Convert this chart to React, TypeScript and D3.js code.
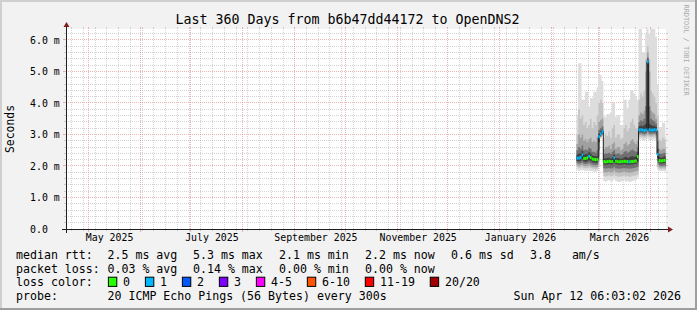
import React from "react";
import * as d3 from "d3";

// ---------- data ----------
const title = "Last 360 Days from b6b47dd44172 to OpenDNS2";
const yAxisTitle = "Seconds";
const watermark = "RRDTOOL / TOBI OETIKER";

const timeStart = new Date(2025, 3, 17, 14, 0);
const timeEnd = new Date(2026, 3, 10, 9, 0);
const firstDay = new Date(2026, 1, 16);
const yMaxMs = 6.349;

const yMajorTicks = [0, 1, 2, 3, 4, 5, 6];
const yTickLabels = ["0.0", "1.0 m", "2.0 m", "3.0 m", "4.0 m", "5.0 m", "6.0 m"];
const xLabelMonths = [new Date(2025, 4, 1), new Date(2025, 6, 1), new Date(2025, 8, 1), new Date(2025, 10, 1), new Date(2026, 0, 1), new Date(2026, 2, 1)];
const xLabelTexts = ["May 2025", "July 2025", "September 2025", "November 2025", "January 2026", "March 2026"];

// daily median rtt (ms)
const median = [
  2.25, 2.25, 2.27, 2.35, 2.24, 2.24, 2.26, 2.31, 2.27, 2.22, 2.21, 2.2, 2.21,
  2.93, 3.02, 3.09,
  2.14, 2.13, 2.14, 2.15, 2.14, 2.14, 2.26, 2.15, 2.14, 2.13, 2.14, 2.14, 2.15, 2.14, 2.14, 2.13, 2.14, 2.14, 2.15, 2.16,
  2.3,
  3.14, 3.15, 3.14, 3.13, 3.14, 5.31, 3.15, 3.14, 3.14, 3.15, 3.14,
  2.37,
  2.17, 2.16, 2.17, 2.18, 2.17,
];
// average lost pings (of 20)
const lossPings = [
  0.04, 0.03, 0.02, 0.05, 0, 0, 0, 0.03, 0, 0, 0, 0, 0,
  0.06, 0.05, 0.04,
  0, 0, 0, 0, 0, 0, 0.03, 0, 0, 0, 0, 0, 0, 0, 0, 0.02, 0, 0, 0, 0,
  0,
  0.02, 0.03, 0.02, 0.02, 0.03, 0.05, 0.02, 0.02, 0.03, 0.02, 0.02,
  0.03,
  0, 0, 0, 0, 0,
];
// smoke: ping ranks, outermost (1) to innermost (5)
const hi1 = [
  3.62, 5.26, 5.26, 4.1, 4.1, 4.36, 4.36, 3.88, 4.16, 4.16, 4.36, 4.36, 4.5,
  4.89, 4.89, 4.7,
  3.57, 3.57, 3.65, 3.65, 3.7, 4.04, 4.04, 3.57, 3.6, 3.62, 3.3, 3.3, 4.1, 4.1, 3.85, 4.1, 4.41, 4.41, 4.3, 4.2,
  4.1,
  6.4, 6.4, 5.6, 5.6, 6.2, 6.4, 6.2, 6.4, 6.4, 6.4, 6.1,
  4.6,
  3.24, 3.24, 3.37, 3.37, 2.92,
];
const hi2 = [
  3.0, 3.8, 3.5, 3.6, 3.3, 3.4, 3.2, 3.3, 3.5, 3.2, 3.4, 3.3, 3.6,
  4.0, 4.1, 4.0,
  2.9, 3.0, 2.95, 3.1, 2.9, 3.2, 3.3, 2.9, 3.0, 3.0, 2.85, 2.9, 3.2, 3.3, 3.1, 3.2, 3.4, 3.5, 3.3, 3.2,
  3.2,
  4.1, 4.3, 4.2, 4.4, 5.4, 5.8, 5.4, 4.4, 4.3, 4.2, 4.0,
  3.6,
  2.85, 2.8, 2.9, 2.85, 2.6,
];
const hi3 = [
  2.7, 3.0, 2.9, 3.0, 2.8, 2.85, 2.75, 2.85, 2.9, 2.75, 2.8, 2.75, 2.9,
  3.4, 3.45, 3.5,
  2.55, 2.6, 2.6, 2.65, 2.55, 2.7, 2.75, 2.55, 2.6, 2.6, 2.5, 2.55, 2.7, 2.75, 2.65, 2.7, 2.8, 2.85, 2.75, 2.7,
  2.8,
  3.6, 3.7, 3.65, 3.75, 5.0, 5.6, 5.0, 3.75, 3.7, 3.65, 3.5,
  3.1,
  2.55, 2.5, 2.55, 2.55, 2.4,
];
const hi4 = [
  2.5, 2.6, 2.55, 2.65, 2.5, 2.52, 2.5, 2.58, 2.55, 2.45, 2.45, 2.42, 2.5,
  3.15, 3.2, 3.25,
  2.38, 2.4, 2.4, 2.42, 2.38, 2.45, 2.5, 2.38, 2.4, 2.4, 2.35, 2.38, 2.45, 2.48, 2.42, 2.45, 2.5, 2.52, 2.48, 2.45,
  2.6,
  3.4, 3.45, 3.42, 3.5, 3.9, 5.45, 3.9, 3.5, 3.45, 3.42, 3.35,
  2.8,
  2.4, 2.38, 2.4, 2.42, 2.32,
];
const hi5 = [
  2.36, 2.4, 2.4, 2.48, 2.36, 2.37, 2.38, 2.44, 2.4, 2.33, 2.32, 2.3, 2.32,
  3.02, 3.1, 3.15,
  2.24, 2.24, 2.25, 2.26, 2.24, 2.27, 2.36, 2.25, 2.25, 2.24, 2.23, 2.24, 2.28, 2.29, 2.26, 2.27, 2.3, 2.31, 2.29, 2.3,
  2.45,
  3.26, 3.28, 3.26, 3.3, 3.35, 5.38, 3.35, 3.3, 3.28, 3.28, 3.24,
  2.55,
  2.28, 2.26, 2.28, 2.3, 2.24,
];
const lo5 = [
  2.16, 2.15, 2.16, 2.22, 2.14, 2.13, 2.15, 2.18, 2.16, 2.12, 2.11, 2.1, 2.11,
  2.75, 2.99, 3.05,
  2.05, 2.04, 2.05, 2.06, 2.05, 2.05, 2.12, 2.06, 2.05, 2.04, 2.05, 2.05, 2.06, 2.05, 2.05, 2.04, 2.05, 2.05, 2.06, 2.07,
  2.12,
  3.08, 3.09, 3.08, 3.07, 3.08, 3.2, 3.09, 3.08, 3.08, 3.09, 3.08,
  2.25,
  2.09, 2.08, 2.09, 2.1, 2.09,
];
const lo4 = [
  2.1, 2.08, 2.09, 2.12, 2.07, 2.06, 2.08, 2.1, 2.08, 2.05, 2.04, 2.03, 2.04,
  2.5, 2.96, 3.02,
  1.93, 1.92, 1.93, 1.94, 1.92, 1.93, 1.98, 1.93, 1.92, 1.91, 1.92, 1.93, 1.94, 1.92, 1.93, 1.91, 1.92, 1.93, 1.94, 1.95,
  1.98,
  3.03, 3.04, 3.02, 3.01, 3.03, 3.1, 3.03, 3.02, 3.03, 3.04, 3.02,
  2.15,
  2.02, 2.0, 2.01, 2.02, 2.0,
];
const lo3 = [
  2.03, 2.0, 2.02, 2.04, 2.0, 1.99, 2.0, 2.02, 2.0, 1.98, 1.97, 1.96, 1.97,
  2.3, 2.93, 3.0,
  1.8, 1.79, 1.8, 1.82, 1.79, 1.8, 1.86, 1.8, 1.79, 1.78, 1.79, 1.8, 1.82, 1.79, 1.8, 1.78, 1.79, 1.8, 1.82, 1.83,
  1.85,
  2.98, 2.99, 2.97, 2.96, 2.98, 3.02, 2.98, 2.97, 2.98, 2.99, 2.96,
  2.05,
  1.96, 1.95, 1.96, 1.96, 1.94,
];
const lo2 = [
  1.97, 1.94, 1.95, 1.97, 1.94, 1.93, 1.94, 1.95, 1.94, 1.92, 1.91, 1.9, 1.91,
  2.15, 2.9, 2.97,
  1.68, 1.67, 1.68, 1.7, 1.67, 1.68, 1.74, 1.68, 1.67, 1.66, 1.67, 1.68, 1.7, 1.67, 1.68, 1.66, 1.67, 1.68, 1.7, 1.71,
  1.72,
  2.92, 2.93, 2.91, 2.9, 2.92, 2.95, 2.92, 2.91, 2.92, 2.93, 2.9,
  1.97,
  1.91, 1.9, 1.91, 1.9, 1.89,
];
const lo1 = [
  1.88, 1.84, 1.86, 1.87, 1.85, 1.84, 1.85, 1.86, 1.84, 1.83, 1.82, 1.82, 1.83,
  2.0, 2.86, 2.94,
  1.52, 1.5, 1.53, 1.55, 1.5, 1.52, 1.58, 1.52, 1.5, 1.49, 1.5, 1.52, 1.55, 1.5, 1.52, 1.49, 1.5, 1.52, 1.55, 1.56,
  1.6,
  2.83, 2.85, 2.82, 2.8, 2.83, 2.86, 2.82, 2.81, 2.83, 2.85, 2.8,
  1.88,
  1.85, 1.84, 1.85, 1.83, 1.82,
];

// legend
const rttLabel = "median rtt:";
const rttValues = ["2.5 ms avg", "5.3 ms max", "2.1 ms min", "2.2 ms now", "0.6 ms sd", "3.8   am/s"];
const lossLabel = "packet loss:";
const lossValues = ["0.03 % avg", "0.14 % max", "0.00 % min", "0.00 % now"];
const lossColorLabel = "loss color:";
const lossBins = ["0", "1", "2", "3", "4-5", "6-10", "11-19", "20/20"];
const lossBinUpper = [0, 1, 2, 3, 5, 10, 19, 20];
const lossBinColors = ["#26ff00", "#00b8ff", "#0059ff", "#7e00ff", "#ff00ff", "#ff5500", "#ff0000", "#a00000"];
const probeLabel = "probe:";
const probeText = "20 ICMP Echo Pings (56 Bytes) every 300s";
const dateText = "Sun Apr 12 06:03:02 2026";

// ---------- styles / layout ----------
const W = 697, H = 310;
const X0 = 66, X1 = 666, Y0 = 229, Y1 = 29;
const MONO = "'DejaVu Sans Mono', monospace";
const smokeColors = ["#dddddd", "#c4c4c4", "#a0a0a0", "#707070", "#404040"];
const gridColor = "rgba(143,143,143,0.38)";
const mgridColor = "rgba(222,79,79,0.42)";
const axisColor = "#1f1f1f";
const arrowColor = "#801f1f";
const legendCols = [107.5, 193, 279, 365, 451, 530];
const legendRowsY = [258.8, 272.5, 286.1, 300.2];
const charW = 6.99;

export default function App() {
  const x = d3.scaleTime().domain([timeStart, timeEnd]).range([X0, X1]);
  const y = d3.scaleLinear().domain([0, yMaxMs]).range([Y0, Y1]);
  const N = median.length;
  const dayAt = (i: number) => d3.timeDay.offset(firstDay, i);

  const bandsLo = [lo1, lo2, lo3, lo4, lo5];
  const bandsHi = [hi1, hi2, hi3, hi4, hi5];
  const idx = d3.range(N + 1);
  const clampI = (i: number) => Math.min(i, N - 1);

  const smokePaths = bandsLo.map((lo, b) => {
    const hi = bandsHi[b];
    const gen = d3
      .area<number>()
      .curve(d3.curveStepAfter)
      .x((i) => x(dayAt(i)))
      .y0((i) => y(lo[clampI(i)]))
      .y1((i) => y(hi[clampI(i)]));
    return <path key={"s" + b} d={gen(idx) || ""} fill={smokeColors[b]} />;
  });

  const medLine = d3
    .line<number>()
    .curve(d3.curveStepAfter)
    .x((i) => x(dayAt(i)))
    .y((i) => y(median[clampI(i)]));

  const lossColor = (l: number) => {
    for (let k = 0; k < lossBinUpper.length; k++) {
      if (l <= lossBinUpper[k]) return lossBinColors[k];
    }
    return lossBinColors[lossBinColors.length - 1];
  };

  const medBars = median.map((m, i) => {
    const xa = x(dayAt(i));
    const xb = x(dayAt(i + 1));
    return (
      <rect key={"m" + i} x={xa} y={y(m) - 1.5} width={xb - xa} height={3} fill={lossColor(lossPings[i])} />
    );
  });

  // grids
  const months = d3.timeMonth.range(timeStart, timeEnd);
  const monthSet = new Set(months.map((d) => +d));
  const weeks = d3.timeMonday.range(timeStart, timeEnd).filter((d) => !monthSet.has(+d));
  const px = (v: number) => Math.floor(v) + 0.5;

  const yMinor = d3.range(1, 32).map((k) => k * 0.2).filter((v) => Math.abs(v - Math.round(v)) > 1e-6 && v < yMaxMs);
  const yMajor = yMajorTicks.filter((v) => v > 0);

  const grid: React.ReactNode[] = [];
  weeks.forEach((d, i) => {
    const xx = px(x(d));
    grid.push(<line key={"wv" + i} x1={xx} x2={xx} y1={Y0} y2={Y1} stroke={gridColor} strokeDasharray="1,1" />);
    grid.push(<line key={"wt" + i} x1={xx} x2={xx} y1={Y0} y2={Y0 + 2} stroke={gridColor} />);
    grid.push(<line key={"wu" + i} x1={xx} x2={xx} y1={Y1 - 2} y2={Y1} stroke={gridColor} />);
  });
  yMinor.forEach((v, i) => {
    const yy = px(y(v));
    grid.push(<line key={"hm" + i} x1={X0} x2={X1} y1={yy} y2={yy} stroke={gridColor} strokeDasharray="1,1" />);
    grid.push(<line key={"hl" + i} x1={X0 - 2} x2={X0} y1={yy} y2={yy} stroke={gridColor} />);
    grid.push(<line key={"hr" + i} x1={X1} x2={X1 + 2} y1={yy} y2={yy} stroke={gridColor} />);
  });
  months.forEach((d, i) => {
    const xx = px(x(d));
    grid.push(<line key={"mv" + i} x1={xx} x2={xx} y1={Y0} y2={Y1} stroke={mgridColor} strokeDasharray="1,1" />);
    grid.push(<line key={"mt" + i} x1={xx} x2={xx} y1={Y0} y2={Y0 + 3} stroke={mgridColor} />);
    grid.push(<line key={"mu" + i} x1={xx} x2={xx} y1={Y1 - 2} y2={Y1} stroke={mgridColor} />);
  });
  yMajor.forEach((v, i) => {
    const yy = px(y(v));
    grid.push(<line key={"hM" + i} x1={X0} x2={X1} y1={yy} y2={yy} stroke={mgridColor} strokeDasharray="1,1" />);
    grid.push(<line key={"hML" + i} x1={X0 - 3} x2={X0} y1={yy} y2={yy} stroke={mgridColor} />);
    grid.push(<line key={"hMR" + i} x1={X1} x2={X1 + 2} y1={yy} y2={yy} stroke={mgridColor} />);
  });

  // legend loss color boxes
  const boxW = 8.4, boxH = 9.2;
  let cursor = 108.4;
  const lossLegend = lossBins.map((lab, k) => {
    const bx = cursor;
    const tx = bx + 14.7;
    cursor = tx + lab.length * charW + 15.3;
    return (
      <g key={"lb" + k}>
        <rect x={bx} y={legendRowsY[2] - 8.9} width={boxW} height={boxH} fill={lossBinColors[k]} stroke="#000" strokeWidth={1} />
        <text x={tx} y={legendRowsY[2]}>{lab}</text>
      </g>
    );
  });

  const labelOffsetMs = 12.6 * 864e5;

  return (
    <svg width={W} height={H} style={{ display: "block", position: "absolute", left: 0, top: 0 }}>
      <defs>
        <clipPath id="plotclip">
          <rect x={X0} y={Y1} width={X1 - X0} height={Y0 - Y1} />
        </clipPath>
      </defs>
      {/* background + shades */}
      <rect x={0} y={0} width={W} height={H} fill="#f2f2f2" />
      <rect x={0} y={0} width={W} height={2} fill="#cfcfcf" />
      <rect x={0} y={0} width={2} height={H} fill="#cfcfcf" />
      <rect x={W - 2} y={0} width={2} height={H} fill="#9e9e9e" />
      <rect x={0} y={H - 2} width={W} height={2} fill="#9e9e9e" />
      {/* canvas */}
      <rect x={X0} y={Y1} width={X1 - X0} height={Y0 - Y1} fill="#ffffff" />
      {grid}
      <g clipPath="url(#plotclip)">
        {smokePaths}
        <path d={medLine(idx) || ""} fill="none" stroke="#202020" strokeWidth={1} />
        {medBars}
      </g>
      {/* axes */}
      <line x1={X0 - 4} x2={X1 + 4} y1={Y0 + 0.5} y2={Y0 + 0.5} stroke={axisColor} strokeWidth={1} />
      <line x1={X0 + 0.5} x2={X0 + 0.5} y1={Y0 + 4} y2={Y1 - 4} stroke={axisColor} strokeWidth={1} />
      <path d={`M${X1 + 2},${Y0 + 0.5 - 3}L${X1 + 2},${Y0 + 0.5 + 3}L${X1 + 7},${Y0 + 0.5}Z`} fill={arrowColor} />
      <path d={`M${X0 + 0.5 - 3},${Y1 - 2}L${X0 + 0.5 + 3},${Y1 - 2}L${X0 + 0.5},${Y1 - 7}Z`} fill={arrowColor} />
      {/* y labels */}
      <g fontFamily={MONO} fontSize={9.9} fill="#000">
        {yMajorTicks.map((v, i) => (
          <text key={"yl" + i} x={30} y={y(v) + 3.6}>{yTickLabels[i]}</text>
        ))}
        {xLabelMonths.map((d, i) => (
          <text key={"xl" + i} x={x(new Date(+d + labelOffsetMs))} y={241.2} textAnchor="middle">{xLabelTexts[i]}</text>
        ))}
      </g>
      <text x={347.5} y={24} textAnchor="middle" fontFamily={MONO} fontSize={13.3} fill="#000">{title}</text>
      <text transform={`translate(14,${(Y0 + Y1) / 2}) rotate(-90)`} textAnchor="middle" fontFamily={MONO} fontSize={11.4} fill="#000">{yAxisTitle}</text>
      <text transform="translate(684,4.5) rotate(90)" fontFamily={MONO} fontSize={6.9} fill="#aaaaaa">{watermark}</text>
      {/* legend */}
      <g fontFamily={MONO} fontSize={11.6} fill="#000">
        <text x={16} y={legendRowsY[0]}>{rttLabel}</text>
        {rttValues.map((t, i) => (
          <text key={"rv" + i} x={legendCols[i]} y={legendRowsY[0]} xmlSpace="preserve" style={{ whiteSpace: "pre" }}>{t}</text>
        ))}
        <text x={16} y={legendRowsY[1]}>{lossLabel}</text>
        {lossValues.map((t, i) => (
          <text key={"lv" + i} x={legendCols[i]} y={legendRowsY[1]}>{t}</text>
        ))}
        <text x={16} y={legendRowsY[2]}>{lossColorLabel}</text>
        {lossLegend}
        <text x={16} y={legendRowsY[3]}>{probeLabel}</text>
        <text x={legendCols[0]} y={legendRowsY[3]}>{probeText}</text>
        <text x={681} y={legendRowsY[3]} textAnchor="end">{dateText}</text>
      </g>
    </svg>
  );
}
